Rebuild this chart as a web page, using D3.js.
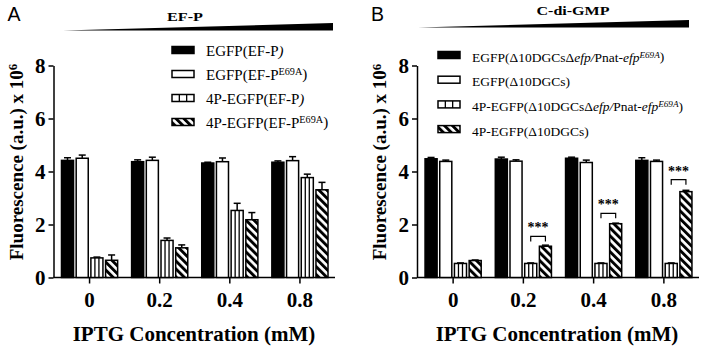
<!DOCTYPE html>
<html>
<head>
<meta charset="utf-8">
<script src="https://cdn.jsdelivr.net/npm/d3@7"></script>
<style>
  body { margin: 0; background: #fff; }
  svg { display: block; }
</style>
</head>
<body>
<div id="chart"></div>
<script>
// fluorescence bars, two panels (A: EF-P, B: C-di-GMP)

const concentrations = ["0", "0.2", "0.4", "0.8"];
const yTicks = [0, 2, 4, 6, 8];

const seriesA = [
    "EGFP(EF-P<i>)</i>",
    "EGFP(EF-P<sup>E69A</sup>)",
    "4P-EGFP(EF-P<i>)</i>",
    "4P-EGFP(EF-P<sup>E69A</sup>)"
];
const valuesA = [
    [4.42, 4.37, 4.32, 4.35],
    [4.50, 4.42, 4.37, 4.41],
    [0.74, 1.40, 2.53, 3.77],
    [0.65, 1.12, 2.18, 3.31]
];
const errorsA = [
    [0.10, 0.07, 0.03, 0.05],
    [0.12, 0.12, 0.14, 0.15],
    [0.03, 0.09, 0.27, 0.13],
    [0.20, 0.11, 0.27, 0.28]
];

const seriesB = [
    "EGFP(\u039410DGCs\u0394<i>efp/</i>Pnat-<i>efp</i><sup><i>E69A</i></sup>)",
    "EGFP(\u039410DGCs)",
    "4P-EGFP(\u039410DGCs\u0394<i>efp/</i>Pnat-<i>efp</i><sup><i>E69A</i></sup>)",
    "4P-EGFP(\u039410DGCs)"
];
const valuesB = [
    [4.48, 4.47, 4.50, 4.42],
    [4.38, 4.39, 4.34, 4.38],
    [0.53, 0.53, 0.53, 0.53],
    [0.64, 1.18, 2.03, 3.24]
];
const errorsB = [
    [0.05, 0.07, 0.04, 0.10],
    [0.05, 0.05, 0.09, 0.05],
    [0.02, 0.02, 0.02, 0.02],
    [0.02, 0.04, 0.02, 0.05]
];
// height of the *** bracket per concentration (null = none)
const sigB = [null, 1.55, 2.42, 3.69];

const serif = "'Liberation Serif', 'Times New Roman', serif";
const sans = "'Liberation Sans', Arial, sans-serif";

const svg = d3.select("#chart").append("svg")
    .attr("width", 702)
    .attr("height", 349);

const defs = svg.append("defs");
const hatch = defs.append("pattern")
    .attr("id", "hatch")
    .attr("patternUnits", "userSpaceOnUse")
    .attr("width", 5.6)
    .attr("height", 5.6)
    .attr("patternTransform", "rotate(-45)");
hatch.append("rect").attr("width", 5.6).attr("height", 5.6).attr("fill", "white");
hatch.append("rect").attr("width", 2.9).attr("height", 5.6).attr("fill", "black");

// appends tspans for a label with <i> and <sup> markup
function richText(textSel, str) {
    const parts = str.split(/(<\/?(?:i|sup)>)/);
    let italic = false, sup = false, raised = false;
    parts.forEach(function(p) {
        if (p === "<i>") italic = true;
        else if (p === "</i>") italic = false;
        else if (p === "<sup>") sup = true;
        else if (p === "</sup>") sup = false;
        else if (p) {
            const t = textSel.append("tspan").text(p);
            if (italic) t.attr("font-style", "italic");
            if (sup) {
                t.attr("font-size", "0.68em");
                if (!raised) { t.attr("dy", "-0.4em"); raised = true; }
            } else if (raised) {
                t.attr("dy", "0.27em");
                raised = false;
            }
        }
    });
}

function barStyle(sel, i) {
    sel.attr("stroke", "black").attr("stroke-width", 1.5);
    if (i === 0) sel.attr("fill", "black");
    else if (i === 3) sel.attr("fill", "url(#hatch)");
    else sel.attr("fill", "white");
}

function drawPanel(cfg) {
    const g = svg.append("g");

    const y = d3.scaleLinear().domain([0, 8]).range([277.5, 65.5]);
    const x = d3.scaleBand().domain(concentrations).range([cfg.axisX + 1, cfg.right]);
    const xi = d3.scaleBand().domain(d3.range(4)).range([-29.4, 29.4])
        .paddingInner(0.18).paddingOuter(0.09);

    // panel letter
    g.append("text")
        .attr("x", cfg.axisX - 46)
        .attr("y", 21)
        .attr("font-family", sans)
        .attr("font-size", "19.5px")
        .text(cfg.letter);

    // title + wedge
    g.append("text")
        .attr("x", cfg.titleX)
        .attr("y", cfg.titleY)
        .attr("text-anchor", "middle")
        .attr("font-family", serif)
        .attr("font-weight", "bold")
        .attr("font-size", "12px")
        .attr("textLength", cfg.titleLen)
        .attr("lengthAdjust", "spacingAndGlyphs")
        .text(cfg.title);

    g.append("path")
        .attr("d", `M${cfg.wedge[0]},${cfg.wedge[2]} L${cfg.wedge[1]},${cfg.wedge[2] - 7.5} L${cfg.wedge[1]},${cfg.wedge[2]} Z`)
        .attr("fill", "black");

    // y axis
    const yAxis = g.append("g")
        .attr("transform", `translate(${cfg.axisX},0)`)
        .call(d3.axisLeft(y).tickValues(yTicks).tickSize(5).tickPadding(3).tickSizeOuter(0));
    yAxis.select(".domain").attr("stroke-width", 1.5);
    yAxis.selectAll(".tick line").attr("stroke-width", 1.5);
    yAxis.selectAll(".tick text")
        .attr("font-family", serif)
        .attr("font-weight", "bold")
        .attr("font-size", "21px")
        .attr("fill", "black");

    const yLab = g.append("text")
        .attr("transform", "rotate(-90)")
        .attr("x", -162)
        .attr("y", cfg.axisX - 31)
        .attr("text-anchor", "middle")
        .attr("font-family", serif)
        .attr("font-weight", "bold")
        .attr("font-size", "19px");
    richText(yLab, "Fluorescence (a.u.) x 10<sup>6</sup>");

    // x axis
    const xAxis = g.append("g")
        .attr("transform", `translate(0,${y(0)})`)
        .call(d3.axisBottom(x).tickSize(6).tickSizeOuter(0));
    xAxis.select(".domain").remove();
    xAxis.append("line")
        .attr("x1", cfg.axisX).attr("x2", cfg.right)
        .attr("stroke", "black").attr("stroke-width", 1.5);
    xAxis.selectAll(".tick line").attr("stroke-width", 1.5);
    xAxis.selectAll(".tick text")
        .attr("y", 29.5)
        .attr("dy", 0)
        .attr("font-family", serif)
        .attr("font-weight", "bold")
        .attr("font-size", "21px")
        .attr("fill", "black");

    g.append("text")
        .attr("x", cfg.xTitleX)
        .attr("y", 341)
        .attr("text-anchor", "middle")
        .attr("font-family", serif)
        .attr("font-weight", "bold")
        .attr("font-size", "21px")
        .text("IPTG Concentration (mM)");

    // bars
    cfg.values.forEach(function(vals, i) {
        const bw = xi.bandwidth();
        const sg = g.append("g");
        vals.forEach(function(v, j) {
            const bx = x(concentrations[j]) + x.bandwidth() / 2 + xi(i);
            const cx = bx + bw / 2;
            const top = y(v + cfg.errors[i][j]);
            // error bar (upper only)
            sg.append("line")
                .attr("x1", cx).attr("x2", cx)
                .attr("y1", y(v)).attr("y2", top)
                .attr("stroke", "black").attr("stroke-width", 1.5);
            sg.append("line")
                .attr("x1", cx - 3.5).attr("x2", cx + 3.5)
                .attr("y1", top).attr("y2", top)
                .attr("stroke", "black").attr("stroke-width", 1.5);

            sg.append("rect")
                .attr("x", bx)
                .attr("y", y(v))
                .attr("width", bw)
                .attr("height", y(0) - y(v))
                .call(barStyle, i);

            if (i === 2) {
                [1, 2].forEach(function(k) {
                    sg.append("line")
                        .attr("x1", bx + bw * k / 3).attr("x2", bx + bw * k / 3)
                        .attr("y1", y(v)).attr("y2", y(0))
                        .attr("stroke", "black").attr("stroke-width", 1.3);
                });
            }
        });
    });

    // significance brackets
    if (cfg.sig) {
        cfg.sig.forEach(function(s, j) {
            if (s === null) return;
            const c = x(concentrations[j]) + x.bandwidth() / 2;
            const x1 = c + xi(2) + xi.bandwidth() / 2;
            const x2 = c + xi(3) + xi.bandwidth() / 2;
            const yb = y(s);
            g.append("path")
                .attr("d", `M${x1},${yb + 5} V${yb} H${x2} V${yb + 5}`)
                .attr("fill", "none")
                .attr("stroke", "black")
                .attr("stroke-width", 1.2);
            g.append("text")
                .attr("x", (x1 + x2) / 2)
                .attr("y", yb - 4)
                .attr("text-anchor", "middle")
                .attr("font-family", serif)
                .attr("font-weight", "bold")
                .attr("font-size", "14px")
                .text("***");
        });
    }

    // legend
    cfg.series.forEach(function(name, i) {
        const ry = cfg.legY + i * cfg.legStep;
        const sw = g.append("rect")
            .attr("x", cfg.legX)
            .attr("y", ry - 3.5)
            .attr("width", 22)
            .attr("height", 7)
            .call(barStyle, i);
        if (i === 2) {
            [1, 2].forEach(function(k) {
                g.append("line")
                    .attr("x1", cfg.legX + 22 * k / 3).attr("x2", cfg.legX + 22 * k / 3)
                    .attr("y1", ry - 3.5).attr("y2", ry + 3.5)
                    .attr("stroke", "black").attr("stroke-width", 1.3);
            });
        }
        const t = g.append("text")
            .attr("x", cfg.legX + 34)
            .attr("y", ry + cfg.legBase)
            .attr("font-family", serif)
            .attr("font-size", cfg.legSize);
        richText(t, name);
    });
}

drawPanel({
    letter: "A", title: "EF-P", titleX: 185, titleY: 21, titleLen: 36,
    wedge: [63, 333, 30.5],
    axisX: 53.5, right: 335, xTitleX: 194,
    values: valuesA, errors: errorsA, series: seriesA, sig: null,
    legX: 172, legY: 50, legStep: 24, legBase: 5.5, legSize: "15px"
});

drawPanel({
    letter: "B", title: "C-di-GMP", titleX: 573, titleY: 15, titleLen: 73,
    wedge: [418, 689, 27.5],
    axisX: 417, right: 699, xTitleX: 557,
    values: valuesB, errors: errorsB, series: seriesB, sig: sigB,
    legX: 438, legY: 55, legStep: 24.7, legBase: 6.5, legSize: "13.5px"
});
</script>
</body>
</html>
